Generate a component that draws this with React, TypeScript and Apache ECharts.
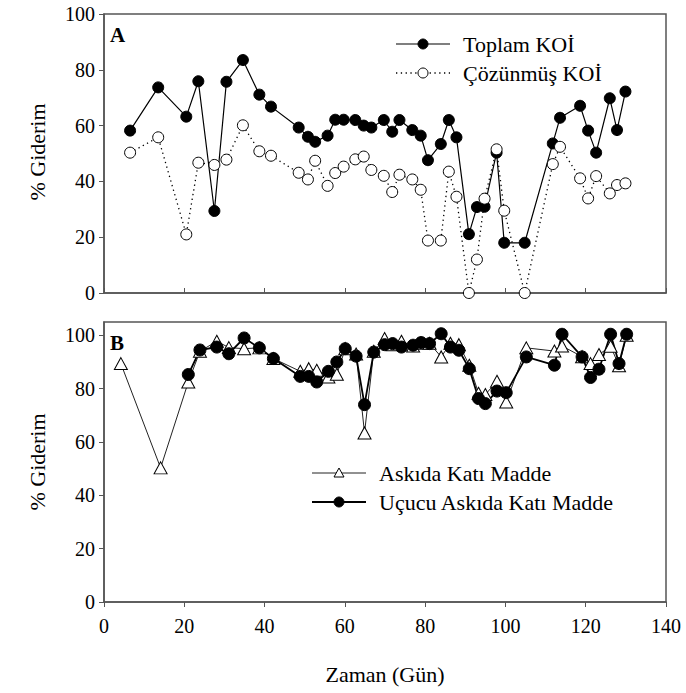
import React, { useEffect, useRef } from "react";
import * as echarts from "echarts";

// Panel A: days and % removal
const daysA = [6.5, 13.5, 20.5, 23.5, 27.5, 30.5, 34.6, 38.7, 41.6, 48.5, 50.8, 52.6, 55.7, 57.6, 59.7, 62.6, 64.7, 66.6, 69.7, 71.8, 73.6, 76.8, 78.9, 80.7, 83.9, 85.9, 87.8, 90.9, 92.9, 94.8, 97.8, 99.7, 104.8, 111.8, 113.6, 118.6, 120.6, 122.6, 126.0, 127.8, 129.9];
const toplamKOI = [58.2, 73.7, 63.2, 75.9, 29.4, 75.7, 83.5, 71.1, 66.8, 59.3, 56.0, 54.2, 56.4, 62.1, 62.1, 62.0, 60.0, 59.3, 62.0, 57.8, 62.0, 58.4, 56.4, 47.6, 53.4, 62.0, 55.8, 21.1, 30.8, 30.9, 50.3, 18.0, 18.0, 53.6, 62.8, 67.1, 58.2, 50.3, 69.8, 58.4, 72.2];
const cozunmusKOI = [50.3, 55.8, 21.0, 46.7, 45.9, 47.8, 60.1, 50.8, 49.2, 43.1, 40.7, 47.4, 38.4, 43.0, 45.3, 47.9, 48.9, 44.1, 42.0, 36.2, 42.4, 40.7, 37.0, 18.8, 18.8, 43.5, 34.5, 0, 12.0, 33.8, 51.5, 29.5, 0, 46.2, 52.4, 41.1, 33.9, 41.9, 35.7, 38.7, 39.3];

// Panel B
const daysAKM = [4.2, 14.1, 21, 23.9, 28.1, 31.1, 34.9, 38.7, 42.2, 48.9, 51, 53, 55.9, 58, 60.1, 62.8, 64.9, 67.2, 69.9, 71.9, 74.1, 77, 79, 81.1, 84, 86.3, 88.4, 91, 93.3, 95, 97.9, 100.2, 105.2, 112.2, 114.1, 119.1, 121.2, 123.3, 126.2, 128.3, 130.2];
const akm = [89.4, 50.3, 82.5, 94, 97.8, 95.4, 95.0, 95.3, 91.3, 86.5, 87.5, 86.9, 84.4, 85.4, 95, 93, 63.4, 94, 98.8, 96.5, 97.8, 96, 97, 97, 91.9, 97, 96.5, 88.8, 78.3, 77.8, 82.8, 75.0, 95.3, 94.1, 96, 92, 89.4, 92.8, 95.9, 88.6, 100];
const daysUAKM = [21, 23.9, 28.1, 31.1, 34.9, 38.7, 42.2, 48.9, 51, 53, 55.9, 58, 60.1, 62.8, 64.9, 67.2, 69.9, 71.9, 74.1, 77, 79, 81.1, 84, 86.3, 88.4, 91, 93.3, 95, 97.9, 100.2, 105.2, 112.2, 114.1, 119.1, 121.2, 123.3, 126.2, 128.3, 130.2];
const uakm = [85.3, 94.5, 95.6, 93.1, 99.0, 95.3, 91.3, 84.6, 84.6, 82.5, 86.5, 90.0, 95.0, 92.2, 74.0, 93.7, 96.5, 96.9, 95.6, 96.3, 97.3, 96.9, 100.6, 95.6, 94.4, 87.5, 76.3, 74.4, 79.1, 78.5, 91.9, 88.8, 100.4, 91.9, 84.2, 87.3, 100.4, 89.4, 100.4];

const yTicks = [0, 20, 40, 60, 80, 100];
const xLabel = "Zaman (Gün)";
const yLabel = "% Giderim";
const legendA = ["Toplam KOİ", "Çözünmüş KOİ"];
const legendB = ["Askıda Katı Madde", "Uçucu Askıda Katı Madde"];

const FONT = "Liberation Serif";
const AX = "#555";

const zip = (xs: number[], ys: number[]) => xs.map((x, i) => [x, ys[i]]);

export default function App() {
  const ref = useRef<HTMLDivElement>(null);
  useEffect(() => {
    if (!ref.current) return;
    const chart = echarts.init(ref.current, undefined, { renderer: "svg" });
    const axisLine = { show: true, lineStyle: { color: AX, width: 1.5 } };
    const label = { color: "#000", fontFamily: FONT, fontSize: 20 };
    const txt = (size: number, bold = false) => ({ fontFamily: FONT, fontSize: size, fontWeight: bold ? "bold" : "normal", fill: "#000" });
    chart.setOption({
      animation: false,
      backgroundColor: "#fff",
      textStyle: { fontFamily: FONT },
      grid: [
        { left: 104, top: 14, width: 562, height: 279, show: true, borderColor: AX, borderWidth: 1.5, containLabel: false },
        { left: 104, top: 322, width: 562, height: 280, show: true, borderColor: AX, borderWidth: 1.5, containLabel: false },
      ],
      xAxis: [
        {
          type: "value", gridIndex: 0, min: 0, max: 140, interval: 20,
          axisLine, splitLine: { show: false },
          axisTick: { show: true, inside: true, length: 5, lineStyle: { color: AX } },
          axisLabel: { show: false },
        },
        {
          type: "value", gridIndex: 1, min: 0, max: 140, interval: 20,
          axisLine, splitLine: { show: false },
          axisTick: { show: true, inside: false, length: 5, lineStyle: { color: AX } },
          axisLabel: { ...label, margin: 14 },
        },
      ],
      yAxis: [
        {
          type: "value", gridIndex: 0, min: 0, max: 100, interval: 20,
          axisLine, splitLine: { show: false },
          axisTick: { show: true, length: 5, lineStyle: { color: AX } },
          axisLabel: { ...label, margin: 9 },
        },
        {
          type: "value", gridIndex: 1, min: 0, max: 105, interval: 20,
          axisLine, splitLine: { show: false },
          axisTick: { show: true, length: 5, lineStyle: { color: AX }, customValues: yTicks },
          axisLabel: { ...label, margin: 9, customValues: yTicks },
        },
      ],
      series: [
        {
          type: "line", xAxisIndex: 0, yAxisIndex: 0, data: zip(daysA, toplamKOI),
          symbol: "circle", symbolSize: 11,
          lineStyle: { color: "#000", width: 1.2 },
          itemStyle: { color: "#000", borderColor: "#000", borderWidth: 1 },
        },
        {
          type: "line", xAxisIndex: 0, yAxisIndex: 0, data: zip(daysA, cozunmusKOI),
          symbol: "circle", symbolSize: 11,
          lineStyle: { color: "#000", width: 1.3, type: [1.3, 3.5] },
          itemStyle: { color: "#fff", borderColor: "#000", borderWidth: 1 },
        },
        {
          type: "line", xAxisIndex: 1, yAxisIndex: 1, data: zip(daysAKM, akm),
          symbol: "triangle", symbolSize: [13, 12],
          lineStyle: { color: "#222", width: 1 },
          itemStyle: { color: "#fff", borderColor: "#000", borderWidth: 1 },
        },
        {
          type: "line", xAxisIndex: 1, yAxisIndex: 1, data: zip(daysUAKM, uakm),
          symbol: "circle", symbolSize: 12,
          lineStyle: { color: "#000", width: 1.8 },
          itemStyle: { color: "#000", borderColor: "#000", borderWidth: 1 },
        },
      ],
      graphic: [
        { type: "text", left: 110, top: 24, style: { text: "A", ...txt(21, true) } },
        { type: "text", left: 110, top: 332, style: { text: "B", ...txt(21, true) } },
        // Legend A
        { type: "line", shape: { x1: 396, y1: 44, x2: 450, y2: 44 }, style: { stroke: "#000", lineWidth: 1.2 } },
        { type: "circle", shape: { cx: 423, cy: 44, r: 5 }, style: { fill: "#000", stroke: "#000" } },
        { type: "text", x: 463, y: 44, style: { text: legendA[0], ...txt(22), verticalAlign: "middle" } },
        { type: "line", shape: { x1: 396, y1: 73, x2: 450, y2: 73 }, style: { stroke: "#000", lineWidth: 1.3, lineDash: [1.3, 3.5] } },
        { type: "circle", shape: { cx: 423, cy: 73, r: 5 }, style: { fill: "#fff", stroke: "#000", lineWidth: 1 } },
        { type: "text", x: 463, y: 73, style: { text: legendA[1], ...txt(22), verticalAlign: "middle" } },
        // Legend B
        { type: "line", shape: { x1: 312, y1: 473, x2: 366, y2: 473 }, style: { stroke: "#222", lineWidth: 1 } },
        { type: "polygon", shape: { points: [[339, 468], [344, 477], [334, 477]] }, style: { fill: "#fff", stroke: "#000", lineWidth: 1 } },
        { type: "text", x: 379, y: 473, style: { text: legendB[0], ...txt(22), verticalAlign: "middle" } },
        { type: "line", shape: { x1: 312, y1: 502, x2: 366, y2: 502 }, style: { stroke: "#000", lineWidth: 1.8 } },
        { type: "circle", shape: { cx: 339, cy: 502, r: 5 }, style: { fill: "#000", stroke: "#000" } },
        { type: "text", x: 379, y: 502, style: { text: legendB[1], ...txt(22), verticalAlign: "middle" } },
        // Axis titles
        { type: "text", x: 385, y: 674, style: { text: xLabel, ...txt(22), align: "center", verticalAlign: "middle" } },
        { type: "text", x: 37, y: 152, rotation: Math.PI / 2, style: { text: yLabel, ...txt(22), align: "center", verticalAlign: "middle" } },
        { type: "text", x: 37, y: 462, rotation: Math.PI / 2, style: { text: yLabel, ...txt(22), align: "center", verticalAlign: "middle" } },
      ],
    });
    return () => chart.dispose();
  }, []);
  return <div ref={ref} style={{ position: "absolute", left: 0, top: 0, width: 686, height: 693 }} />;
}
